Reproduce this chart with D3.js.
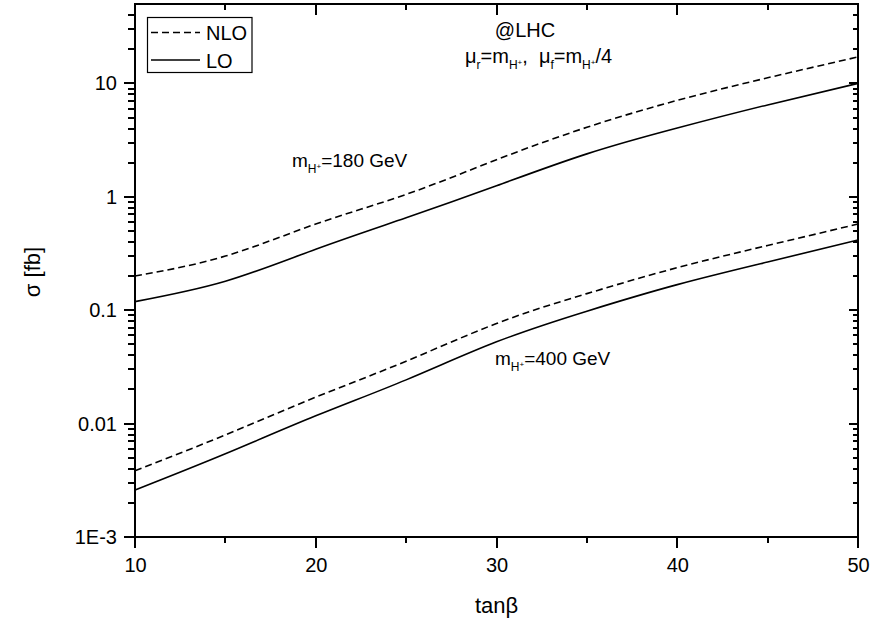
<!DOCTYPE html>
<html>
<head>
<meta charset="utf-8">
<script src="https://cdn.jsdelivr.net/npm/d3@7"></script>
<style>
  body { margin: 0; background: #fff; }
  text { font-family: "Liberation Sans", Arial, sans-serif; fill: #000; }
</style>
</head>
<body>
<div id="chart"></div>
<script>
const tanb = [10, 15, 20, 25, 30, 35, 40, 45, 50];

// cross sections in fb
const nlo180 = [0.20, 0.30, 0.575, 1.05, 2.12, 4.10, 7.08, 11.2, 17.1];
const lo180  = [0.119, 0.18, 0.345, 0.653, 1.25, 2.39, 4.04, 6.46, 10.0];
const nlo400 = [0.00384, 0.00795, 0.0171, 0.0355, 0.0763, 0.140, 0.237, 0.372, 0.575];
const lo400  = [0.00259, 0.00541, 0.0117, 0.0243, 0.0526, 0.098, 0.168, 0.266, 0.416];

const xTicks = [10, 20, 30, 40, 50];
const xMinor = [15, 25, 35, 45];
const yTicks = [1e-3, 0.01, 0.1, 1, 10];
const yLabels = ["1E-3", "0.01", "0.1", "1", "10"];

const width = 875, height = 624;
const plotLeft = 135, plotRight = 858, plotTop = 4, plotBottom = 537;

const svg = d3.select("#chart").append("svg")
    .attr("width", width)
    .attr("height", height);

const x = d3.scaleLinear().domain([10, 50]).range([plotLeft, plotRight]);
const y = d3.scaleLog().domain([1e-3, Math.pow(10, 1.7)]).range([plotBottom, plotTop]);

// minor ticks for the log axis: 2..9 in each decade
let yMinor = [];
for (let d = -3; d <= 1; d++) {
    for (let m = 2; m <= 9; m++) {
        let v = m * Math.pow(10, d);
        if (v < y.domain()[1] * 0.99) yMinor.push(v);
    }
}

// tick labels through d3 axes, tick marks drawn as paths below
function styleLabels(g) {
    g.select(".domain").remove();
    g.selectAll(".tick line").remove();
    g.selectAll(".tick text").style("font-size", "20px")
        .style("font-family", "Liberation Sans, Arial, sans-serif")
        .attr("fill", "#000");
}
svg.append("g").attr("transform", `translate(0,${plotBottom})`)
    .call(d3.axisBottom(x).tickValues(xTicks).tickSize(0).tickPadding(21))
    .call(styleLabels);
svg.append("g").attr("transform", `translate(${plotLeft},0)`)
    .call(d3.axisLeft(y).tickValues(yTicks).tickSize(0).tickPadding(18)
        .tickFormat((d, i) => yLabels[i]))
    .call(styleLabels);

// all tick marks collected into one path
let tickPath = "";
function xTickMarks(values, len) {
    values.forEach(v => {
        let px = Math.round(x(v));
        tickPath += `M${px},${plotBottom}V${plotBottom + len}`;  // bottom, outward
        tickPath += `M${px},${plotTop}V${plotTop + len}`;        // top, inward
    });
}
function yTickMarks(values, lenOut, lenIn) {
    values.forEach(v => {
        let py = Math.round(y(v));
        tickPath += `M${plotLeft - lenOut},${py}H${plotLeft}`;
        tickPath += `M${plotRight - lenIn},${py}H${plotRight}`;
    });
}
xTickMarks(xTicks, 11);
xTickMarks(xMinor, 6);
yTickMarks(yTicks, 11, 9);
yTickMarks(yMinor, 7, 5);

svg.append("path")
    .attr("d", tickPath)
    .attr("fill", "none")
    .attr("stroke", "#000")
    .attr("stroke-width", 2);

// frame
svg.append("path")
    .attr("d", `M${plotLeft},${plotTop}H${plotRight}V${plotBottom}H${plotLeft}Z`)
    .attr("fill", "none").attr("stroke", "#000").attr("stroke-width", 2);

// curves
const line = d3.line()
    .x(d => x(d[0]))
    .y(d => y(d[1]))
    .curve(d3.curveNatural);

const series = [
    { values: nlo180, dash: "7,4" },
    { values: lo180, dash: null },
    { values: nlo400, dash: "7,4" },
    { values: lo400, dash: null }
];
series.forEach(s => {
    svg.append("path")
        .datum(tanb.map((t, i) => [t, s.values[i]]))
        .attr("fill", "none")
        .attr("stroke", "#000")
        .attr("stroke-width", 1.6)
        .attr("stroke-dasharray", s.dash)
        .attr("d", line);
});

// legend
svg.append("rect")
    .attr("x", 147.5).attr("y", 17.5)
    .attr("width", 104.5).attr("height", 55)
    .attr("fill", "none").attr("stroke", "#000").attr("stroke-width", 1.2);
svg.append("line").attr("x1", 151).attr("x2", 200).attr("y1", 32.5).attr("y2", 32.5)
    .attr("stroke", "#000").attr("stroke-width", 1.6).attr("stroke-dasharray", "7,4");
svg.append("line").attr("x1", 151).attr("x2", 200).attr("y1", 60).attr("y2", 60)
    .attr("stroke", "#000").attr("stroke-width", 1.6);
svg.append("text").attr("x", 206).attr("y", 40).style("font-size", "20px").text("NLO");
svg.append("text").attr("x", 206).attr("y", 67.5).style("font-size", "20px").text("LO");

// axis titles
svg.append("text")
    .attr("x", (plotLeft + plotRight) / 2).attr("y", 613)
    .attr("text-anchor", "middle")
    .style("font-size", "22px")
    .text("tanβ");
svg.append("text")
    .attr("transform", "translate(40,272) rotate(-90)")
    .attr("text-anchor", "middle")
    .style("font-size", "22px")
    .text("σ [fb]");

// annotations
svg.append("text").attr("x", 525).attr("y", 37)
    .attr("text-anchor", "middle").style("font-size", "20px").text("@LHC");

function massLabel(px, py, rest) {
    let t = svg.append("text").attr("x", px).attr("y", py).style("font-size", "19px");
    t.append("tspan").text("m");
    t.append("tspan").attr("dy", 6).style("font-size", "12px").text("H");
    t.append("tspan").attr("dy", -4).style("font-size", "8px").text("+");
    t.append("tspan").attr("dy", -2).text(rest);
}
massLabel(292, 167, "=180 GeV");
massLabel(495, 365, "=400 GeV");

let sc = svg.append("text").attr("x", 465).attr("y", 63).style("font-size", "20px");
sc.append("tspan").text("μ");
sc.append("tspan").attr("dy", 6).style("font-size", "12px").text("r");
sc.append("tspan").attr("dy", -6).text("=m");
sc.append("tspan").attr("dy", 6).style("font-size", "12px").text("H");
sc.append("tspan").attr("dy", -4).style("font-size", "8px").text("+");
sc.append("tspan").attr("dy", -2).text(",\u00a0\u00a0μ");
sc.append("tspan").attr("dy", 6).style("font-size", "12px").text("f");
sc.append("tspan").attr("dy", -6).text("=m");
sc.append("tspan").attr("dy", 6).style("font-size", "12px").text("H");
sc.append("tspan").attr("dy", -4).style("font-size", "8px").text("+");
sc.append("tspan").attr("dy", -2).text("/4");
</script>
</body>
</html>
